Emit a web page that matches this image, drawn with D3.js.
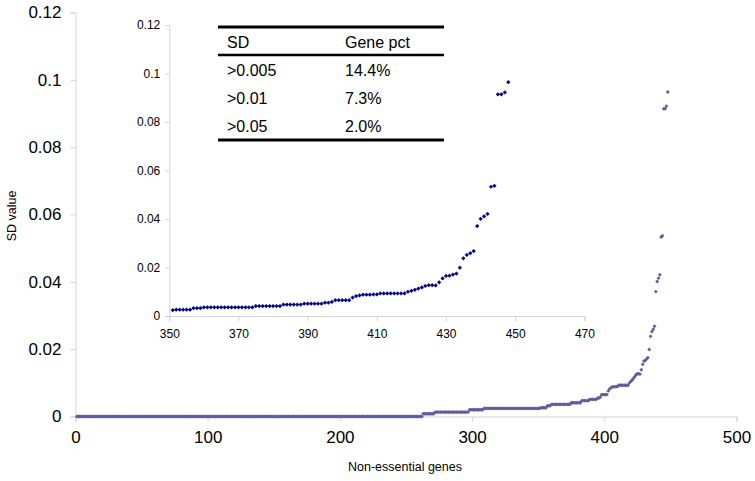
<!DOCTYPE html>
<html><head><meta charset="utf-8">
<script src="https://cdn.jsdelivr.net/npm/d3@7"></script>
<style>body{margin:0;background:#fff}svg{display:block;font-family:"Liberation Sans",Arial,sans-serif}</style>
</head><body><svg id="c" width="755" height="481"></svg>
<script>
// ---- data ----
const mainXTicks = [0, 100, 200, 300, 400, 500];
const mainYTicks = [0, 0.02, 0.04, 0.06, 0.08, 0.1, 0.12];
const insetXTicks = [350, 370, 390, 410, 430, 450, 470];
const insetYTicks = [0, 0.02, 0.04, 0.06, 0.08, 0.1, 0.12];
// flat stretches of sorted SD values for genes 1..350, as [count, value]
const lowRuns = [[262, 0], [9, 0.0008], [26, 0.0013], [11, 0.0020], [42, 0.0024]];
// sorted SD values for genes 351..448
const tailStart = 351;
const tailValues = [
  0.0024,
  0.0026, 0.0026, 0.0026, 0.0026, 0.0026,
  0.0032, 0.0032, 0.0032,
  0.0036, 0.0036, 0.0036, 0.0036, 0.0036, 0.0036, 0.0036, 0.0036, 0.0036, 0.0036, 0.0036, 0.0036, 0.0036, 0.0036, 0.0036,
  0.0041, 0.0041, 0.0041, 0.0041, 0.0041, 0.0041, 0.0041, 0.0041,
  0.0047, 0.0047, 0.0047, 0.0047, 0.0047, 0.0047,
  0.0051, 0.0051, 0.0051, 0.0051, 0.0051, 0.0051,
  0.0055, 0.0055, 0.0058,
  0.0065, 0.0065, 0.0065, 0.0065, 0.0065,
  0.0076, 0.0082, 0.0085,
  0.0088, 0.0088, 0.0088, 0.0089, 0.0089,
  0.0093, 0.0093, 0.0093, 0.0093, 0.0093, 0.0093, 0.0093, 0.0093,
  0.0100, 0.0104, 0.0108, 0.0113, 0.0118, 0.0124, 0.0127, 0.0127, 0.0126,
  0.0139, 0.0155, 0.0165, 0.0166, 0.0171, 0.0175, 0.0199,
  0.0238, 0.0252, 0.0259, 0.0268,
  0.0371, 0.0401, 0.0411, 0.0421,
  0.0533, 0.0537,
  0.0914, 0.0914, 0.0922, 0.0964
];
const tableHeader = ["SD", "Gene pct"];
const tableThresholds = [">0.005", ">0.01", ">0.05"];
const tablePcts = ["14.4%", "7.3%", "2.0%"];
const xTitle = "Non-essential genes";
const yTitle = "SD value";

// ---- build series ----
const genes = [];
let idx = 1;
lowRuns.forEach(([n, v]) => { for (let k = 0; k < n; k++) genes.push({x: idx++, y: v}); });
const tail = tailValues.map((v, k) => ({x: tailStart + k, y: v}));
tail.forEach(d => genes.push(d));

const svg = d3.select("#c");
const axisColor = "#d4d4d4";

function styleAxis(g, fontSize) {
  g.select(".domain").attr("stroke", axisColor);
  g.selectAll(".tick line").attr("stroke", axisColor);
  g.selectAll(".tick text").attr("fill", "#000").style("font-size", fontSize + "px")
    .style("font-family", '"Liberation Sans",Arial,sans-serif');
}

// ---- main chart ----
const x = d3.scaleLinear().domain([0, 500]).range([75.5, 736.5]);
const y = d3.scaleLinear().domain([0, 0.12]).range([416.5, 12.5]);

svg.append("g").attr("transform", `translate(0,${y(0)})`)
  .call(d3.axisBottom(x).tickValues(mainXTicks).tickFormat(d3.format("d")).tickSizeOuter(0).tickSize(5).tickPadding(9))
  .call(g => styleAxis(g, 17));
svg.append("g").attr("transform", `translate(${x(0)},0)`)
  .call(d3.axisLeft(y).tickValues(mainYTicks).tickFormat(d => d === 0 ? "0" : String(+d.toFixed(2))).tickSizeOuter(0).tickSize(5).tickPadding(9))
  .call(g => styleAxis(g, 17));

const diamond = d3.symbol(d3.symbolSquare);
svg.append("g").selectAll("path").data(genes).join("path")
  .attr("d", diamond.size(7.5)())
  .attr("transform", d => `translate(${x(d.x)},${y(d.y)}) rotate(45)`)
  .attr("fill", "#5e5e9c");

svg.append("text").attr("x", 405).attr("y", 471).attr("text-anchor", "middle")
  .style("font-size", "12.5px").text(xTitle);
svg.append("text").attr("transform", "translate(16,216) rotate(-90)").attr("text-anchor", "middle")
  .style("font-size", "12.5px").text(yTitle);

// ---- inset ----
const ix = d3.scaleLinear().domain([350, 470]).range([169.3, 584.4]);
const iy = d3.scaleLinear().domain([0, 0.12]).range([316, 25]);

svg.append("g").attr("transform", `translate(0,${iy(0)})`)
  .call(d3.axisBottom(ix).tickValues(insetXTicks).tickFormat(d3.format("d")).tickSizeOuter(0).tickSize(5).tickPadding(8))
  .call(g => styleAxis(g, 12));
svg.append("g").attr("transform", `translate(${ix(350)},0)`)
  .call(d3.axisLeft(iy).tickValues(insetYTicks).tickFormat(d => d === 0 ? "0" : String(+d.toFixed(2))).tickSizeOuter(0).tickSize(4).tickPadding(5))
  .call(g => styleAxis(g, 12));

svg.append("g").selectAll("path").data(tail).join("path")
  .attr("d", diamond.size(9)())
  .attr("transform", d => `translate(${ix(d.x)},${iy(d.y)}) rotate(45)`)
  .attr("fill", "#000080");

// ---- table ----
const tbl = svg.append("g");
const tx0 = 218, tx1 = 444, c1 = 227, c2 = 345;
tbl.append("line").attr("x1", tx0).attr("x2", tx1).attr("y1", 27).attr("y2", 27).attr("stroke", "#000").attr("stroke-width", 3);
tbl.append("line").attr("x1", tx0).attr("x2", tx1).attr("y1", 55).attr("y2", 55).attr("stroke", "#000").attr("stroke-width", 2.5);
tbl.append("line").attr("x1", tx0).attr("x2", tx1).attr("y1", 140).attr("y2", 140).attr("stroke", "#000").attr("stroke-width", 3);
tbl.append("text").attr("x", c1).attr("y", 47.5).style("font-size", "16px").text(tableHeader[0]);
tbl.append("text").attr("x", c2).attr("y", 47.5).style("font-size", "16px").text(tableHeader[1]);
tableThresholds.forEach((t, i) => {
  tbl.append("text").attr("x", c1).attr("y", 76 + i * 28).style("font-size", "16px").text(t);
  tbl.append("text").attr("x", c2).attr("y", 76 + i * 28).style("font-size", "16px").text(tablePcts[i]);
});
</script></body></html>
